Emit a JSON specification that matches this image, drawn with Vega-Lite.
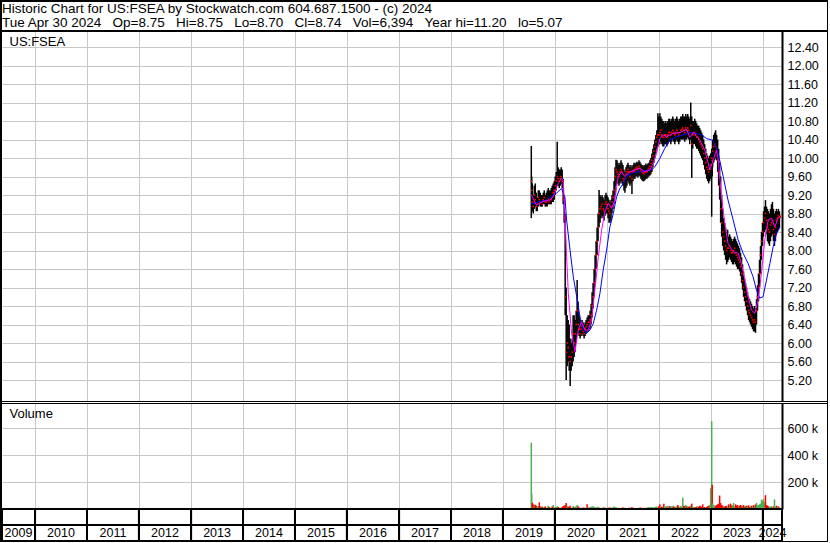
{
"$schema":"https://vega.github.io/schema/vega-lite/v6.json",
"width":827,"height":541,"autosize":"none",
"padding":{"left":1,"top":1,"right":0,"bottom":0},
"background":"white",
"config":{"view":{"stroke":"black","strokeWidth":2},"font":"Liberation Sans","axis":{"labelOverlap":false}},
"title":{"text":["Historic Chart for US:FSEA by Stockwatch.com 604.687.1500 - (c) 2024","Tue Apr 30 2024 \u00a0\u00a0Op=8.75 \u00a0\u00a0Hi=8.75 \u00a0\u00a0Lo=8.70 \u00a0\u00a0Cl=8.74 \u00a0\u00a0Vol=6,394 \u00a0\u00a0Year hi=11.20 \u00a0\u00a0lo=5.07"],"anchor":"start","frame":"group","orient":"top","baseline":"top","offset":-28,"dx":1,"fontSize":13.5,"fontWeight":"normal","font":"Liberation Sans","color":"black","lineHeight":14},
"datasets":{
"px":[
{"d":"2019-07-19","h":10.26,"l":8.7,"c":9.5,"v":495000,"s":"u"},
{"d":"2019-07-22","h":9.6,"l":9.0,"c":9.3,"v":115000,"s":"u"},
{"d":"2019-07-26","h":9.45,"l":8.85,"c":9.05,"v":46000,"s":"d"},
{"d":"2019-08-02","h":9.2,"l":8.8,"c":8.95,"v":35000,"s":"d"},
{"d":"2019-08-09","h":9.4,"l":8.9,"c":9.2,"v":28000,"s":"u"},
{"d":"2019-08-16","h":9.45,"l":8.95,"c":9.1,"v":32000,"s":"d"},
{"d":"2019-08-23","h":9.25,"l":8.85,"c":8.95,"v":25000,"s":"d"},
{"d":"2019-08-30","h":9.15,"l":8.85,"c":9.0,"v":18000,"s":"u"},
{"d":"2019-09-06","h":9.3,"l":8.95,"c":9.15,"v":22000,"s":"u"},
{"d":"2019-09-13","h":9.3,"l":9.0,"c":9.1,"v":50000,"s":"d"},
{"d":"2019-09-20","h":9.25,"l":8.95,"c":9.05,"v":20000,"s":"d"},
{"d":"2019-09-27","h":9.2,"l":8.95,"c":9.05,"v":15000,"s":"u"},
{"d":"2019-10-04","h":9.2,"l":8.95,"c":9.0,"v":18000,"s":"d"},
{"d":"2019-10-11","h":9.25,"l":9.0,"c":9.1,"v":12000,"s":"u"},
{"d":"2019-10-18","h":9.3,"l":9.0,"c":9.15,"v":14000,"s":"u"},
{"d":"2019-10-25","h":9.2,"l":8.95,"c":9.05,"v":20000,"s":"d"},
{"d":"2019-11-01","h":9.25,"l":8.95,"c":9.05,"v":10000,"s":"u"},
{"d":"2019-11-08","h":9.3,"l":8.95,"c":9.1,"v":12000,"s":"u"},
{"d":"2019-11-15","h":9.35,"l":9.0,"c":9.1,"v":25000,"s":"u"},
{"d":"2019-11-22","h":9.3,"l":9.0,"c":9.05,"v":15000,"s":"d"},
{"d":"2019-11-29","h":9.3,"l":9.0,"c":9.1,"v":9000,"s":"u"},
{"d":"2019-12-06","h":9.35,"l":9.0,"c":9.1,"v":12000,"s":"u"},
{"d":"2019-12-13","h":9.4,"l":9.05,"c":9.15,"v":20000,"s":"d"},
{"d":"2019-12-20","h":9.45,"l":9.05,"c":9.25,"v":30000,"s":"u"},
{"d":"2019-12-27","h":9.5,"l":9.1,"c":9.3,"v":10000,"s":"d"},
{"d":"2020-01-03","h":9.6,"l":9.2,"c":9.4,"v":15000,"s":"u"},
{"d":"2020-01-10","h":9.7,"l":9.3,"c":9.5,"v":12000,"s":"u"},
{"d":"2020-01-17","h":10.35,"l":9.4,"c":9.6,"v":20000,"s":"u"},
{"d":"2020-01-24","h":9.8,"l":9.4,"c":9.55,"v":14000,"s":"d"},
{"d":"2020-01-31","h":9.75,"l":9.35,"c":9.5,"v":10000,"s":"d"},
{"d":"2020-02-07","h":9.75,"l":9.4,"c":9.55,"v":8000,"s":"u"},
{"d":"2020-02-14","h":9.8,"l":9.45,"c":9.6,"v":12000,"s":"u"},
{"d":"2020-02-21","h":9.75,"l":9.35,"c":9.5,"v":15000,"s":"d"},
{"d":"2020-02-28","h":9.55,"l":9.0,"c":9.1,"v":22000,"s":"d"},
{"d":"2020-03-06","h":9.2,"l":8.6,"c":8.7,"v":25000,"s":"d"},
{"d":"2020-03-13","h":8.8,"l":6.6,"c":7.0,"v":30000,"s":"d"},
{"d":"2020-03-20","h":7.2,"l":5.2,"c":5.8,"v":45000,"s":"d"},
{"d":"2020-03-27","h":6.6,"l":5.5,"c":6.0,"v":20000,"s":"u"},
{"d":"2020-04-03","h":6.5,"l":5.6,"c":5.9,"v":15000,"s":"d"},
{"d":"2020-04-10","h":6.4,"l":5.4,"c":5.7,"v":18000,"s":"d"},
{"d":"2020-04-17","h":6.1,"l":5.07,"c":5.6,"v":25000,"s":"d"},
{"d":"2020-04-24","h":6.0,"l":5.4,"c":5.7,"v":12000,"s":"u"},
{"d":"2020-05-01","h":6.1,"l":5.5,"c":5.8,"v":10000,"s":"u"},
{"d":"2020-05-08","h":6.6,"l":5.6,"c":6.2,"v":22000,"s":"u"},
{"d":"2020-05-15","h":6.6,"l":5.7,"c":6.0,"v":14000,"s":"d"},
{"d":"2020-05-22","h":6.5,"l":5.8,"c":6.2,"v":16000,"s":"u"},
{"d":"2020-05-29","h":6.7,"l":6.0,"c":6.4,"v":18000,"s":"u"},
{"d":"2020-06-05","h":7.36,"l":6.2,"c":6.7,"v":30000,"s":"u"},
{"d":"2020-06-12","h":6.9,"l":6.2,"c":6.4,"v":20000,"s":"d"},
{"d":"2020-06-19","h":6.6,"l":6.15,"c":6.3,"v":12000,"s":"d"},
{"d":"2020-06-26","h":6.5,"l":6.1,"c":6.2,"v":10000,"s":"d"},
{"d":"2020-07-03","h":6.45,"l":6.15,"c":6.3,"v":8000,"s":"u"},
{"d":"2020-07-10","h":6.5,"l":6.2,"c":6.35,"v":9000,"s":"u"},
{"d":"2020-07-17","h":6.45,"l":6.15,"c":6.25,"v":10000,"s":"d"},
{"d":"2020-07-24","h":6.4,"l":6.1,"c":6.2,"v":12000,"s":"d"},
{"d":"2020-07-31","h":6.45,"l":6.15,"c":6.3,"v":8000,"s":"u"},
{"d":"2020-08-07","h":6.5,"l":6.2,"c":6.35,"v":9000,"s":"u"},
{"d":"2020-08-14","h":6.55,"l":6.25,"c":6.4,"v":35000,"s":"d"},
{"d":"2020-08-21","h":6.6,"l":6.25,"c":6.45,"v":10000,"s":"u"},
{"d":"2020-08-28","h":6.6,"l":6.3,"c":6.45,"v":12000,"s":"d"},
{"d":"2020-09-04","h":6.7,"l":6.3,"c":6.5,"v":14000,"s":"u"},
{"d":"2020-09-11","h":6.85,"l":6.4,"c":6.6,"v":16000,"s":"u"},
{"d":"2020-09-18","h":7.1,"l":6.55,"c":6.8,"v":18000,"s":"u"},
{"d":"2020-09-25","h":7.3,"l":6.75,"c":7.0,"v":20000,"s":"u"},
{"d":"2020-10-02","h":7.6,"l":7.0,"c":7.3,"v":15000,"s":"u"},
{"d":"2020-10-09","h":7.9,"l":7.3,"c":7.6,"v":12000,"s":"u"},
{"d":"2020-10-16","h":8.2,"l":7.6,"c":7.9,"v":10000,"s":"d"},
{"d":"2020-10-23","h":8.5,"l":7.9,"c":8.2,"v":14000,"s":"u"},
{"d":"2020-10-30","h":8.8,"l":8.2,"c":8.5,"v":16000,"s":"u"},
{"d":"2020-11-06","h":9.31,"l":8.5,"c":8.8,"v":12000,"s":"u"},
{"d":"2020-11-13","h":9.2,"l":8.6,"c":8.9,"v":10000,"s":"d"},
{"d":"2020-11-20","h":9.15,"l":8.7,"c":8.95,"v":8000,"s":"u"},
{"d":"2020-11-27","h":9.2,"l":8.75,"c":9.0,"v":9000,"s":"u"},
{"d":"2020-12-04","h":9.15,"l":8.7,"c":8.9,"v":10000,"s":"d"},
{"d":"2020-12-11","h":9.1,"l":8.65,"c":8.85,"v":12000,"s":"d"},
{"d":"2020-12-18","h":9.2,"l":8.75,"c":9.0,"v":11000,"s":"u"},
{"d":"2020-12-25","h":9.25,"l":8.8,"c":9.05,"v":7000,"s":"u"},
{"d":"2021-01-01","h":9.2,"l":8.8,"c":9.0,"v":8000,"s":"d"},
{"d":"2021-01-08","h":9.15,"l":8.7,"c":8.9,"v":10000,"s":"d"},
{"d":"2021-01-15","h":9.1,"l":8.6,"c":8.85,"v":9000,"s":"d"},
{"d":"2021-01-22","h":9.05,"l":8.6,"c":8.8,"v":12000,"s":"d"},
{"d":"2021-01-29","h":9.1,"l":8.65,"c":8.95,"v":10000,"s":"u"},
{"d":"2021-02-05","h":9.2,"l":8.8,"c":9.05,"v":9000,"s":"u"},
{"d":"2021-02-12","h":9.3,"l":8.9,"c":9.15,"v":11000,"s":"u"},
{"d":"2021-02-19","h":9.5,"l":9.0,"c":9.3,"v":18000,"s":"u"},
{"d":"2021-02-26","h":9.8,"l":9.2,"c":9.6,"v":15000,"s":"u"},
{"d":"2021-03-05","h":9.96,"l":9.4,"c":9.75,"v":12000,"s":"u"},
{"d":"2021-03-12","h":9.95,"l":9.45,"c":9.7,"v":10000,"s":"d"},
{"d":"2021-03-19","h":9.9,"l":9.45,"c":9.65,"v":8000,"s":"d"},
{"d":"2021-03-26","h":9.85,"l":9.4,"c":9.6,"v":9000,"s":"d"},
{"d":"2021-04-02","h":9.9,"l":9.45,"c":9.7,"v":7000,"s":"u"},
{"d":"2021-04-09","h":9.95,"l":9.5,"c":9.75,"v":8000,"s":"u"},
{"d":"2021-04-16","h":9.9,"l":9.45,"c":9.7,"v":10000,"s":"d"},
{"d":"2021-04-23","h":9.85,"l":9.4,"c":9.55,"v":12000,"s":"d"},
{"d":"2021-04-30","h":9.75,"l":9.3,"c":9.5,"v":9000,"s":"d"},
{"d":"2021-05-07","h":9.7,"l":9.25,"c":9.55,"v":8000,"s":"u"},
{"d":"2021-05-14","h":9.8,"l":9.35,"c":9.65,"v":7000,"s":"u"},
{"d":"2021-05-21","h":9.85,"l":9.4,"c":9.7,"v":6000,"s":"u"},
{"d":"2021-05-28","h":9.9,"l":9.5,"c":9.75,"v":8000,"s":"u"},
{"d":"2021-06-04","h":9.85,"l":9.45,"c":9.7,"v":9000,"s":"d"},
{"d":"2021-06-11","h":9.8,"l":9.4,"c":9.6,"v":10000,"s":"d"},
{"d":"2021-06-18","h":9.85,"l":9.45,"c":9.7,"v":7000,"s":"u"},
{"d":"2021-06-25","h":9.8,"l":9.22,"c":9.55,"v":14000,"s":"d"},
{"d":"2021-07-02","h":9.85,"l":9.5,"c":9.7,"v":8000,"s":"u"},
{"d":"2021-07-09","h":9.9,"l":9.55,"c":9.75,"v":9000,"s":"u"},
{"d":"2021-07-16","h":9.88,"l":9.55,"c":9.72,"v":7000,"s":"d"},
{"d":"2021-07-23","h":9.9,"l":9.6,"c":9.78,"v":8000,"s":"u"},
{"d":"2021-07-30","h":9.92,"l":9.6,"c":9.8,"v":6000,"s":"u"},
{"d":"2021-08-06","h":9.9,"l":9.58,"c":9.76,"v":7000,"s":"d"},
{"d":"2021-08-13","h":9.95,"l":9.62,"c":9.82,"v":9000,"s":"u"},
{"d":"2021-08-20","h":9.92,"l":9.6,"c":9.78,"v":10000,"s":"d"},
{"d":"2021-08-27","h":9.88,"l":9.55,"c":9.72,"v":12000,"s":"d"},
{"d":"2021-09-03","h":9.85,"l":9.52,"c":9.7,"v":8000,"s":"d"},
{"d":"2021-09-10","h":9.85,"l":9.5,"c":9.68,"v":7000,"s":"d"},
{"d":"2021-09-17","h":9.82,"l":9.5,"c":9.66,"v":9000,"s":"d"},
{"d":"2021-09-24","h":9.85,"l":9.52,"c":9.7,"v":8000,"s":"u"},
{"d":"2021-10-01","h":9.88,"l":9.55,"c":9.72,"v":10000,"s":"u"},
{"d":"2021-10-08","h":9.85,"l":9.55,"c":9.7,"v":9000,"s":"d"},
{"d":"2021-10-15","h":9.88,"l":9.58,"c":9.75,"v":12000,"s":"u"},
{"d":"2021-10-22","h":9.9,"l":9.6,"c":9.78,"v":14000,"s":"u"},
{"d":"2021-10-29","h":9.95,"l":9.62,"c":9.82,"v":11000,"s":"u"},
{"d":"2021-11-05","h":10.0,"l":9.65,"c":9.88,"v":13000,"s":"u"},
{"d":"2021-11-12","h":10.1,"l":9.7,"c":9.95,"v":15000,"s":"u"},
{"d":"2021-11-19","h":10.2,"l":9.8,"c":10.05,"v":12000,"s":"u"},
{"d":"2021-11-26","h":10.3,"l":9.9,"c":10.15,"v":10000,"s":"u"},
{"d":"2021-12-03","h":10.4,"l":10.0,"c":10.25,"v":14000,"s":"u"},
{"d":"2021-12-10","h":10.5,"l":10.1,"c":10.35,"v":16000,"s":"u"},
{"d":"2021-12-17","h":10.6,"l":10.2,"c":10.45,"v":18000,"s":"u"},
{"d":"2021-12-24","h":10.97,"l":10.25,"c":10.5,"v":12000,"s":"u"},
{"d":"2021-12-31","h":10.9,"l":10.3,"c":10.5,"v":20000,"s":"d"},
{"d":"2022-01-07","h":10.97,"l":10.3,"c":10.55,"v":35000,"s":"d"},
{"d":"2022-01-14","h":10.9,"l":10.35,"c":10.6,"v":15000,"s":"u"},
{"d":"2022-01-21","h":10.85,"l":10.3,"c":10.5,"v":18000,"s":"d"},
{"d":"2022-01-28","h":10.8,"l":10.25,"c":10.45,"v":12000,"s":"d"},
{"d":"2022-02-04","h":10.8,"l":10.25,"c":10.45,"v":40000,"s":"d"},
{"d":"2022-02-11","h":10.75,"l":10.3,"c":10.5,"v":14000,"s":"u"},
{"d":"2022-02-18","h":10.8,"l":10.3,"c":10.5,"v":20000,"s":"u"},
{"d":"2022-02-25","h":10.75,"l":10.25,"c":10.45,"v":16000,"s":"d"},
{"d":"2022-03-04","h":10.8,"l":10.3,"c":10.5,"v":25000,"s":"u"},
{"d":"2022-03-11","h":10.85,"l":10.35,"c":10.55,"v":18000,"s":"u"},
{"d":"2022-03-18","h":10.85,"l":10.35,"c":10.55,"v":22000,"s":"d"},
{"d":"2022-03-25","h":10.8,"l":10.3,"c":10.5,"v":15000,"s":"u"},
{"d":"2022-04-01","h":10.85,"l":10.35,"c":10.55,"v":20000,"s":"u"},
{"d":"2022-04-08","h":10.9,"l":10.4,"c":10.6,"v":25000,"s":"u"},
{"d":"2022-04-15","h":10.85,"l":10.35,"c":10.55,"v":18000,"s":"d"},
{"d":"2022-04-22","h":10.8,"l":10.3,"c":10.5,"v":14000,"s":"d"},
{"d":"2022-04-29","h":10.85,"l":10.35,"c":10.55,"v":16000,"s":"u"},
{"d":"2022-05-06","h":10.9,"l":10.4,"c":10.6,"v":20000,"s":"u"},
{"d":"2022-05-13","h":10.85,"l":10.35,"c":10.55,"v":30000,"s":"d"},
{"d":"2022-05-20","h":10.8,"l":10.3,"c":10.5,"v":18000,"s":"d"},
{"d":"2022-05-27","h":10.85,"l":10.35,"c":10.55,"v":15000,"s":"u"},
{"d":"2022-06-03","h":10.9,"l":10.4,"c":10.6,"v":22000,"s":"u"},
{"d":"2022-06-10","h":10.9,"l":10.4,"c":10.62,"v":18000,"s":"u"},
{"d":"2022-06-17","h":10.95,"l":10.4,"c":10.65,"v":85000,"s":"u"},
{"d":"2022-06-24","h":10.9,"l":10.4,"c":10.6,"v":25000,"s":"d"},
{"d":"2022-07-01","h":10.9,"l":10.35,"c":10.55,"v":20000,"s":"d"},
{"d":"2022-07-08","h":10.95,"l":10.4,"c":10.65,"v":30000,"s":"u"},
{"d":"2022-07-15","h":10.9,"l":10.4,"c":10.6,"v":18000,"s":"d"},
{"d":"2022-07-22","h":10.95,"l":10.45,"c":10.65,"v":22000,"s":"u"},
{"d":"2022-07-29","h":10.9,"l":10.4,"c":10.6,"v":15000,"s":"d"},
{"d":"2022-08-05","h":10.85,"l":10.3,"c":10.55,"v":20000,"s":"d"},
{"d":"2022-08-12","h":11.2,"l":10.4,"c":10.7,"v":25000,"s":"u"},
{"d":"2022-08-19","h":10.9,"l":9.57,"c":10.3,"v":40000,"s":"d"},
{"d":"2022-08-26","h":10.8,"l":10.2,"c":10.5,"v":18000,"s":"u"},
{"d":"2022-09-02","h":10.8,"l":10.3,"c":10.55,"v":15000,"s":"u"},
{"d":"2022-09-09","h":10.85,"l":10.3,"c":10.55,"v":12000,"s":"d"},
{"d":"2022-09-16","h":10.8,"l":10.25,"c":10.5,"v":14000,"s":"d"},
{"d":"2022-09-23","h":10.75,"l":10.2,"c":10.45,"v":18000,"s":"d"},
{"d":"2022-09-30","h":10.7,"l":10.2,"c":10.45,"v":20000,"s":"u"},
{"d":"2022-10-07","h":10.7,"l":10.15,"c":10.4,"v":16000,"s":"d"},
{"d":"2022-10-14","h":10.65,"l":10.1,"c":10.35,"v":25000,"s":"d"},
{"d":"2022-10-21","h":10.6,"l":10.05,"c":10.3,"v":20000,"s":"d"},
{"d":"2022-10-28","h":10.55,"l":10.0,"c":10.25,"v":15000,"s":"d"},
{"d":"2022-11-04","h":10.5,"l":9.95,"c":10.2,"v":35000,"s":"d"},
{"d":"2022-11-11","h":10.4,"l":9.85,"c":10.1,"v":12000,"s":"d"},
{"d":"2022-11-18","h":10.3,"l":9.75,"c":10.0,"v":14000,"s":"d"},
{"d":"2022-11-25","h":10.2,"l":9.65,"c":9.9,"v":10000,"s":"d"},
{"d":"2022-12-02","h":10.1,"l":9.55,"c":9.8,"v":16000,"s":"d"},
{"d":"2022-12-09","h":10.05,"l":9.5,"c":9.75,"v":20000,"s":"d"},
{"d":"2022-12-16","h":10.0,"l":9.45,"c":9.7,"v":25000,"s":"d"},
{"d":"2022-12-23","h":10.05,"l":9.5,"c":9.75,"v":30000,"s":"u"},
{"d":"2022-12-30","h":10.1,"l":9.55,"c":9.85,"v":155000,"s":"u"},
{"d":"2023-01-06","h":10.2,"l":8.73,"c":10.0,"v":655000,"s":"u"},
{"d":"2023-01-10","h":10.15,"l":9.6,"c":9.95,"v":180000,"s":"d"},
{"d":"2023-01-13","h":10.4,"l":9.8,"c":10.15,"v":40000,"s":"u"},
{"d":"2023-01-20","h":10.5,"l":9.9,"c":10.25,"v":30000,"s":"u"},
{"d":"2023-01-27","h":10.55,"l":9.95,"c":10.3,"v":20000,"s":"u"},
{"d":"2023-02-03","h":10.6,"l":10.0,"c":10.25,"v":25000,"s":"d"},
{"d":"2023-02-10","h":10.5,"l":9.95,"c":10.2,"v":30000,"s":"d"},
{"d":"2023-02-17","h":10.4,"l":9.7,"c":9.95,"v":35000,"s":"d"},
{"d":"2023-02-24","h":10.2,"l":9.4,"c":9.7,"v":40000,"s":"d"},
{"d":"2023-03-03","h":9.9,"l":9.1,"c":9.4,"v":100000,"s":"d"},
{"d":"2023-03-10","h":9.6,"l":8.6,"c":8.9,"v":45000,"s":"d"},
{"d":"2023-03-17","h":9.2,"l":8.3,"c":8.6,"v":30000,"s":"d"},
{"d":"2023-03-24","h":8.9,"l":8.1,"c":8.4,"v":25000,"s":"d"},
{"d":"2023-03-31","h":8.7,"l":8.0,"c":8.3,"v":20000,"s":"u"},
{"d":"2023-04-07","h":8.6,"l":7.9,"c":8.2,"v":18000,"s":"d"},
{"d":"2023-04-14","h":8.5,"l":7.8,"c":8.1,"v":22000,"s":"d"},
{"d":"2023-04-21","h":8.4,"l":7.7,"c":8.0,"v":25000,"s":"d"},
{"d":"2023-04-28","h":8.45,"l":7.75,"c":8.05,"v":15000,"s":"u"},
{"d":"2023-05-05","h":8.3,"l":7.8,"c":8.05,"v":35000,"s":"d"},
{"d":"2023-05-12","h":8.35,"l":7.85,"c":8.1,"v":30000,"s":"u"},
{"d":"2023-05-19","h":8.3,"l":7.8,"c":8.0,"v":40000,"s":"d"},
{"d":"2023-05-26","h":8.25,"l":7.75,"c":7.95,"v":25000,"s":"d"},
{"d":"2023-06-02","h":8.2,"l":7.7,"c":7.95,"v":30000,"s":"u"},
{"d":"2023-06-09","h":8.25,"l":7.7,"c":8.0,"v":45000,"s":"u"},
{"d":"2023-06-16","h":8.3,"l":7.75,"c":8.05,"v":20000,"s":"u"},
{"d":"2023-06-23","h":8.25,"l":7.7,"c":7.95,"v":35000,"s":"d"},
{"d":"2023-06-30","h":8.2,"l":7.65,"c":7.9,"v":25000,"s":"d"},
{"d":"2023-07-07","h":8.15,"l":7.6,"c":7.85,"v":30000,"s":"d"},
{"d":"2023-07-14","h":8.1,"l":7.6,"c":7.8,"v":20000,"s":"u"},
{"d":"2023-07-21","h":8.05,"l":7.55,"c":7.75,"v":25000,"s":"d"},
{"d":"2023-07-28","h":7.95,"l":7.45,"c":7.65,"v":30000,"s":"d"},
{"d":"2023-08-04","h":7.85,"l":7.3,"c":7.5,"v":20000,"s":"d"},
{"d":"2023-08-11","h":7.7,"l":7.15,"c":7.35,"v":25000,"s":"u"},
{"d":"2023-08-18","h":7.55,"l":7.0,"c":7.2,"v":30000,"s":"d"},
{"d":"2023-08-25","h":7.4,"l":6.9,"c":7.1,"v":18000,"s":"d"},
{"d":"2023-09-01","h":7.3,"l":6.8,"c":7.0,"v":22000,"s":"u"},
{"d":"2023-09-08","h":7.2,"l":6.7,"c":6.9,"v":25000,"s":"d"},
{"d":"2023-09-15","h":7.1,"l":6.6,"c":6.8,"v":20000,"s":"u"},
{"d":"2023-09-22","h":7.0,"l":6.5,"c":6.7,"v":28000,"s":"d"},
{"d":"2023-09-29","h":6.95,"l":6.45,"c":6.65,"v":15000,"s":"d"},
{"d":"2023-10-06","h":6.9,"l":6.4,"c":6.6,"v":20000,"s":"u"},
{"d":"2023-10-13","h":6.85,"l":6.35,"c":6.55,"v":25000,"s":"d"},
{"d":"2023-10-20","h":6.8,"l":6.3,"c":6.5,"v":18000,"s":"u"},
{"d":"2023-10-27","h":6.75,"l":6.25,"c":6.45,"v":30000,"s":"d"},
{"d":"2023-11-03","h":6.8,"l":6.25,"c":6.5,"v":22000,"s":"u"},
{"d":"2023-11-10","h":6.75,"l":6.22,"c":6.45,"v":35000,"s":"d"},
{"d":"2023-11-17","h":6.95,"l":6.4,"c":6.7,"v":45000,"s":"u"},
{"d":"2023-11-24","h":7.25,"l":6.7,"c":7.0,"v":25000,"s":"u"},
{"d":"2023-12-01","h":7.5,"l":6.9,"c":7.2,"v":30000,"s":"u"},
{"d":"2023-12-08","h":7.8,"l":7.2,"c":7.5,"v":35000,"s":"u"},
{"d":"2023-12-15","h":8.1,"l":7.5,"c":7.9,"v":40000,"s":"u"},
{"d":"2023-12-22","h":8.4,"l":7.8,"c":8.2,"v":70000,"s":"u"},
{"d":"2023-12-29","h":8.6,"l":8.1,"c":8.4,"v":60000,"s":"u"},
{"d":"2024-01-05","h":8.85,"l":8.3,"c":8.6,"v":75000,"s":"u"},
{"d":"2024-01-12","h":8.95,"l":8.4,"c":8.7,"v":50000,"s":"u"},
{"d":"2024-01-19","h":9.09,"l":8.45,"c":8.8,"v":103000,"s":"d"},
{"d":"2024-01-26","h":8.95,"l":8.35,"c":8.65,"v":30000,"s":"d"},
{"d":"2024-02-02","h":8.9,"l":8.2,"c":8.5,"v":25000,"s":"d"},
{"d":"2024-02-09","h":8.85,"l":8.15,"c":8.45,"v":20000,"s":"d"},
{"d":"2024-02-16","h":8.8,"l":8.1,"c":8.4,"v":15000,"s":"u"},
{"d":"2024-02-23","h":8.9,"l":8.2,"c":8.55,"v":18000,"s":"u"},
{"d":"2024-03-01","h":9.0,"l":8.3,"c":8.6,"v":22000,"s":"u"},
{"d":"2024-03-08","h":9.05,"l":8.35,"c":8.65,"v":12000,"s":"u"},
{"d":"2024-03-15","h":8.9,"l":8.2,"c":8.45,"v":20000,"s":"d"},
{"d":"2024-03-22","h":8.8,"l":8.1,"c":8.35,"v":72000,"s":"u"},
{"d":"2024-03-29","h":8.85,"l":8.2,"c":8.5,"v":15000,"s":"u"},
{"d":"2024-04-05","h":8.9,"l":8.35,"c":8.65,"v":25000,"s":"d"},
{"d":"2024-04-12","h":8.85,"l":8.4,"c":8.7,"v":18000,"s":"u"},
{"d":"2024-04-19","h":8.9,"l":8.45,"c":8.75,"v":20000,"s":"d"},
{"d":"2024-04-26","h":8.85,"l":8.5,"c":8.72,"v":12000,"s":"u"},
{"d":"2024-04-30","h":8.75,"l":8.7,"c":8.74,"v":6394,"s":"u"}
],
"mag":[
{"d":"2019-07-20","p":9.2},{"d":"2019-08-24","p":8.98},{"d":"2019-10-10","p":9.06},{"d":"2019-11-26","p":9.09},{"d":"2019-12-20","p":9.16},{"d":"2020-01-24","p":9.45},{"d":"2020-02-16","p":9.56},{"d":"2020-02-28","p":9.52},{"d":"2020-03-11","p":8.8},{"d":"2020-03-23","p":7.87},{"d":"2020-04-04","p":7.07},{"d":"2020-04-27","p":6.21},{"d":"2020-05-21","p":5.81},{"d":"2020-06-13","p":6.28},{"d":"2020-07-06","p":6.46},{"d":"2020-07-30","p":6.28},{"d":"2020-08-22","p":6.28},{"d":"2020-09-15","p":6.5},{"d":"2020-10-08","p":7.15},{"d":"2020-11-01","p":7.87},{"d":"2020-11-24","p":8.44},{"d":"2020-12-17","p":8.84},{"d":"2021-01-10","p":9.02},{"d":"2021-02-02","p":8.91},{"d":"2021-02-25","p":9.09},{"d":"2021-03-20","p":9.6},{"d":"2021-04-13","p":9.7},{"d":"2021-05-06","p":9.6},{"d":"2021-06-10","p":9.7},{"d":"2021-07-15","p":9.74},{"d":"2021-08-19","p":9.78},{"d":"2021-09-23","p":9.7},{"d":"2021-10-29","p":9.74},{"d":"2021-11-21","p":9.88},{"d":"2021-12-15","p":10.1},{"d":"2022-01-07","p":10.42},{"d":"2022-01-31","p":10.5},{"d":"2022-02-23","p":10.46},{"d":"2022-04-10","p":10.53},{"d":"2022-05-27","p":10.55},{"d":"2022-07-13","p":10.62},{"d":"2022-08-06","p":10.45},{"d":"2022-08-29","p":10.55},{"d":"2022-10-15","p":10.39},{"d":"2022-11-19","p":10.17},{"d":"2022-12-24","p":9.74},{"d":"2023-01-17","p":9.96},{"d":"2023-02-09","p":10.17},{"d":"2023-02-21","p":9.96},{"d":"2023-03-16","p":9.16},{"d":"2023-04-08","p":8.59},{"d":"2023-05-01","p":8.15},{"d":"2023-06-06","p":7.97},{"d":"2023-07-11","p":7.94},{"d":"2023-08-03","p":7.72},{"d":"2023-08-27","p":7.36},{"d":"2023-09-19","p":7.0},{"d":"2023-10-13","p":6.71},{"d":"2023-11-05","p":6.64},{"d":"2023-11-28","p":6.93},{"d":"2023-12-22","p":7.51},{"d":"2024-01-14","p":8.23},{"d":"2024-02-07","p":8.66},{"d":"2024-03-01","p":8.7},{"d":"2024-03-24","p":8.51},{"d":"2024-04-17","p":8.7},{"d":"2024-04-30","p":8.73}
],
"blu":[
{"d":"2019-07-20","p":9.0},{"d":"2019-09-18","p":9.06},{"d":"2019-11-03","p":9.09},{"d":"2019-12-08","p":9.16},{"d":"2020-01-12","p":9.24},{"d":"2020-02-16","p":9.34},{"d":"2020-03-11","p":9.16},{"d":"2020-03-23","p":8.66},{"d":"2020-04-16","p":8.01},{"d":"2020-05-09","p":7.43},{"d":"2020-06-02","p":7.0},{"d":"2020-06-25","p":6.57},{"d":"2020-07-18","p":6.28},{"d":"2020-08-10","p":6.21},{"d":"2020-09-03","p":6.28},{"d":"2020-09-26","p":6.42},{"d":"2020-10-20","p":6.71},{"d":"2020-11-12","p":7.07},{"d":"2020-12-05","p":7.58},{"d":"2020-12-29","p":8.01},{"d":"2021-01-21","p":8.51},{"d":"2021-02-14","p":8.8},{"d":"2021-03-09","p":9.16},{"d":"2021-04-01","p":9.34},{"d":"2021-04-25","p":9.45},{"d":"2021-05-18","p":9.6},{"d":"2021-06-23","p":9.67},{"d":"2021-07-27","p":9.7},{"d":"2021-09-01","p":9.7},{"d":"2021-10-06","p":9.74},{"d":"2021-11-10","p":9.74},{"d":"2021-12-03","p":9.81},{"d":"2022-01-07","p":9.99},{"d":"2022-02-11","p":10.21},{"d":"2022-03-18","p":10.39},{"d":"2022-05-04","p":10.46},{"d":"2022-06-20","p":10.5},{"d":"2022-08-06","p":10.55},{"d":"2022-09-22","p":10.53},{"d":"2022-10-27","p":10.5},{"d":"2022-12-01","p":10.42},{"d":"2023-01-05","p":10.39},{"d":"2023-01-28","p":10.32},{"d":"2023-02-21","p":10.1},{"d":"2023-03-28","p":9.6},{"d":"2023-05-01","p":9.09},{"d":"2023-06-06","p":8.66},{"d":"2023-07-11","p":8.23},{"d":"2023-08-15","p":7.94},{"d":"2023-09-19","p":7.72},{"d":"2023-10-24","p":7.43},{"d":"2023-11-16","p":7.15},{"d":"2023-12-09","p":6.97},{"d":"2024-01-02","p":7.0},{"d":"2024-01-26","p":7.36},{"d":"2024-02-19","p":7.72},{"d":"2024-03-13","p":8.08},{"d":"2024-04-06","p":8.37},{"d":"2024-04-30","p":8.51}
],
"yrs":[
{"yr":"2009","s":"2009-05-14","e":"2010-01-01"},{"yr":"2010","s":"2010-01-01","e":"2011-01-01"},{"yr":"2011","s":"2011-01-01","e":"2012-01-01"},{"yr":"2012","s":"2012-01-01","e":"2013-01-01"},{"yr":"2013","s":"2013-01-01","e":"2014-01-01"},{"yr":"2014","s":"2014-01-01","e":"2015-01-01"},{"yr":"2015","s":"2015-01-01","e":"2016-01-01"},{"yr":"2016","s":"2016-01-01","e":"2017-01-01"},{"yr":"2017","s":"2017-01-01","e":"2018-01-01"},{"yr":"2018","s":"2018-01-01","e":"2019-01-01"},{"yr":"2019","s":"2019-01-01","e":"2020-01-01"},{"yr":"2020","s":"2020-01-01","e":"2021-01-01"},{"yr":"2021","s":"2021-01-01","e":"2022-01-01"},{"yr":"2022","s":"2022-01-01","e":"2023-01-01"},{"yr":"2023","s":"2023-01-01","e":"2024-01-01"},{"yr":"2024","s":"2024-01-01","e":"2024-05-14"}
]
},
"layer":[
 {"data":{"name":"px"},"mark":{"type":"rule","color":"black","strokeWidth":1.5},
  "encoding":{
   "x":{"field":"d","type":"temporal","scale":{"domain":[{"year":2009,"month":5,"date":14},{"year":2024,"month":5,"date":14}],"range":[1,781]},
        "axis":{"orient":"top","offset":0,"grid":true,"gridColor":"#c8c8c8","gridWidth":1,"domain":false,"ticks":false,"labels":false,"title":null,"tickCount":{"interval":"year","step":1}}},
   "y":{"field":"l","type":"quantitative","scale":{"domain":[4.746,12.746],"range":[400,30],"zero":false,"nice":false},
        "axis":{"orient":"left","offset":-781,"values":[5.2,6.0,6.8,7.6,8.4,9.2,10.0,10.8,11.6,12.4],"format":".2f","grid":true,"gridColor":"#c8c8c8","gridWidth":1,"domain":true,"domainColor":"black","domainWidth":2,"ticks":false,"tickSize":0,"labelPadding":-5,"labelAlign":"left","labelFontSize":12.5,"labelFont":"Liberation Sans","labelColor":"black","labelOverlap":false,"labelBound":false,"labelFlush":false,
         "title":"US:FSEA","titleX":-773,"titleY":40,"titleAngle":0,"titleAlign":"left","titleBaseline":"middle","titleFontSize":13,"titleFontWeight":"normal","titleFont":"Liberation Sans","titleColor":"black"}},
   "y2":{"field":"h"}}},
 {"data":{"name":"px"},"mark":{"type":"square","color":"#ff0000","size":2.5,"opacity":1},
  "encoding":{"x":{"field":"d","type":"temporal","axis":null},
   "y":{"field":"c","type":"quantitative","scale":{"domain":[4.746,12.746],"range":[400,30],"zero":false,"nice":false},
        "axis":{"orient":"left","offset":-781,"values":[5.6,6.4,7.2,8.0,8.8,9.6,10.4,11.2,12.0],"format":".2f","grid":true,"gridColor":"#c8c8c8","gridWidth":1,"domain":false,"ticks":false,"tickSize":0,"labelPadding":-5,"labelAlign":"left","labelFontSize":12.5,"labelFont":"Liberation Sans","labelColor":"black","labelOverlap":false,"labelBound":false,"labelFlush":false,"title":null}}}},
 {"data":{"name":"blu"},"mark":{"type":"line","color":"#0000ff","strokeWidth":1},
  "encoding":{"x":{"field":"d","type":"temporal","axis":null},"y":{"field":"p","type":"quantitative","scale":{"domain":[4.746,12.746],"range":[400,30],"zero":false,"nice":false},"axis":null}}},
 {"data":{"name":"mag"},"mark":{"type":"line","color":"#ff00ff","strokeWidth":1},
  "encoding":{"x":{"field":"d","type":"temporal","axis":null},"y":{"field":"p","type":"quantitative","scale":{"domain":[4.746,12.746],"range":[400,30],"zero":false,"nice":false},"axis":null}}},
 {"data":{"values":[{}]},"mark":{"type":"rule","color":"black","strokeWidth":2},"encoding":{"y":{"datum":12.746,"type":"quantitative","scale":{"domain":[4.746,12.746],"range":[400,30],"zero":false,"nice":false},"axis":null}}},
 {"data":{"values":[{}]},"mark":{"type":"rule","color":"black","strokeWidth":1},"encoding":{"y":{"datum":4.7352,"type":"quantitative","scale":{"domain":[4.746,12.746],"range":[400,30],"zero":false,"nice":false},"axis":null}}},
 {"data":{"name":"px"},"mark":{"type":"rule","strokeWidth":1.5},
  "encoding":{
   "x":{"field":"d","type":"temporal","axis":{"orient":"top","offset":0,"grid":true,"gridColor":"#c8c8c8","gridWidth":1,"domain":false,"ticks":false,"labels":false,"title":null,"tickCount":{"interval":"year","step":1}}},
   "y":{"field":"v","type":"quantitative","scale":{"domain":[0,790000],"range":[508,402],"zero":false,"nice":false},
        "axis":{"orient":"left","offset":-781,"values":[200000,400000,600000],"labelExpr":"(datum.value/1000) + ' k'","grid":true,"gridColor":"#c8c8c8","gridWidth":1,"domain":true,"domainColor":"black","domainWidth":2,"ticks":false,"tickSize":0,"labelPadding":-5,"labelAlign":"left","labelFontSize":12.5,"labelFont":"Liberation Sans","labelColor":"black","labelOverlap":false,"labelBound":false,"labelFlush":false,
         "title":"Volume","titleX":-773,"titleY":412,"titleAngle":0,"titleAlign":"left","titleBaseline":"middle","titleFontSize":13,"titleFontWeight":"normal","titleFont":"Liberation Sans","titleColor":"black"}},
   "y2":{"datum":0},
   "color":{"field":"s","type":"nominal","scale":{"domain":["u","d"],"range":["#4caf50","#ff0000"]},"legend":null}}},
 {"data":{"values":[{}]},"mark":{"type":"rule","color":"black","strokeWidth":1},"encoding":{"y":{"datum":786274,"type":"quantitative","scale":{"domain":[0,790000],"range":[508,402],"zero":false,"nice":false},"axis":null}}},
 {"data":{"name":"yrs"},
  "transform":[{"calculate":"(toNumber(toDate(datum.s))+toNumber(toDate(datum.e)))/2","as":"m"}],
  "layer":[
   {"mark":{"type":"rect","fill":"transparent","stroke":"black","strokeWidth":2},
    "encoding":{"x":{"field":"s","type":"temporal","axis":null},"x2":{"field":"e"},
     "y":{"datum":0,"type":"quantitative","scale":{"domain":[0,2],"range":[540,508],"zero":false,"nice":false},"axis":null},"y2":{"datum":1}}},
   {"mark":{"type":"rect","fill":"transparent","stroke":"black","strokeWidth":2},
    "encoding":{"x":{"field":"s","type":"temporal","axis":null},"x2":{"field":"e"},
     "y":{"datum":1,"type":"quantitative","axis":null},"y2":{"datum":2}}},
   {"mark":{"type":"text","fontSize":12.5,"font":"Liberation Sans","color":"black","align":"center","baseline":"middle"},
    "encoding":{"x":{"field":"m","type":"temporal","axis":null},"y":{"datum":0.5,"type":"quantitative","axis":null},"text":{"field":"yr"}}}
  ]}
],
"resolve":{"scale":{"y":"independent"},"axis":{"x":"independent","y":"independent"}}
}
